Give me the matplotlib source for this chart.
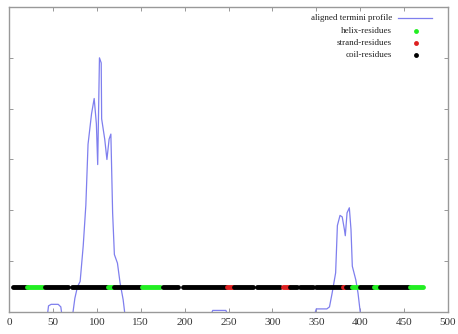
import matplotlib
matplotlib.use('Agg')
import matplotlib.pyplot as plt

# aligned termini profile (values below 0 are clipped by the axis)
profile_x = [0, 40, 42, 45, 48, 56, 59, 62, 66, 70, 72.5, 75, 78, 81, 84.5, 87.5, 90, 94, 97,
             99.5, 101, 103, 105, 105.5, 109, 111.5, 114, 116, 118, 120, 123.5, 126.5, 130,
             132, 135, 225, 229, 232, 247, 250, 254, 344, 347, 350, 362, 365, 368, 372, 374,
             377, 379.5, 382, 383, 385, 387.6, 389.5, 391, 395, 397.5, 400, 403, 470]
profile_y = [-0.3, -0.3, -0.3, 0.12, 0.15, 0.15, 0.1, -0.3, -0.3, -0.3, -0.05, 0.27, 0.5, 0.6,
             1.3, 2.1, 3.3, 3.9, 4.2, 3.7, 2.9, 5.0, 4.9, 3.8, 3.4, 3.0, 3.4, 3.5, 1.95, 1.13,
             0.96, 0.57, 0.24, -0.05, -0.3, -0.3, -0.1, 0.03, 0.03, -0.1, -0.3, -0.3, -0.1, 0.06,
             0.06, 0.1, 0.37, 0.77, 1.7, 1.9, 1.87, 1.62, 1.5, 1.95, 2.05, 1.62, 0.9, 0.63,
             0.37, 0.0, -0.3, -0.3]

# secondary structure per residue range: (start, end, type)
seg_start = [5, 21, 41, 72, 113, 119, 151, 175, 198, 248, 256, 283, 312, 320, 331, 350, 380,
             384, 391, 400, 416, 423, 457]
seg_end = [20, 39, 67, 112, 118, 149, 172, 193, 247, 255, 278, 309, 319, 328, 346, 379, 383,
           390, 399, 415, 421, 456, 472]
seg_type = ['coil', 'helix', 'coil', 'coil', 'helix', 'coil', 'helix', 'coil', 'coil', 'strand',
            'coil', 'coil', 'strand', 'coil', 'coil', 'coil', 'strand', 'coil', 'helix', 'coil',
            'helix', 'coil', 'helix']
residue_level = 0.5

colors = {'helix': '#22ee22', 'strand': '#dd2020', 'coil': 'black'}
legend_labels = ['aligned termini profile', 'helix-residues', 'strand-residues', 'coil-residues']
profile_color = '#7f7fee'

serif = ['Liberation Serif', 'DejaVu Serif']

fig = plt.figure(figsize=(4.58, 3.34), dpi=100)
ax = fig.add_axes([0.0197, 0.066, 0.9585, 0.913])

ax.plot(profile_x, profile_y, color=profile_color, linewidth=0.9, zorder=2)

# residues drawn as thick runs of points
for s, e, t in zip(seg_start, seg_end, seg_type):
    ax.plot([s, e], [residue_level, residue_level], color=colors[t], linewidth=3.5,
            solid_capstyle='round', zorder=3)

ax.set_xlim(0, 500)
ax.set_ylim(0, 6)
ax.set_xticks(range(0, 501, 50))
ax.set_yticks(range(0, 7))
ax.set_yticklabels([])
ax.tick_params(direction='in', length=3, width=0.6, color='#888888', top=True, right=True,
               labelsize=8, pad=4)
for lbl in ax.get_xticklabels():
    lbl.set_fontfamily(serif)
    lbl.set_color('#333333')
for sp in ax.spines.values():
    sp.set_color('#999999')
    sp.set_linewidth(1.0)

# gnuplot-style key: right-aligned labels, sample on the right
row_y = [0.964, 0.922, 0.882, 0.843]
for i, (label, yy) in enumerate(zip(legend_labels, row_y)):
    ax.text(0.872, yy, label, transform=ax.transAxes, ha='right', va='center',
            fontsize=6.5, family=serif, color='#222222')
    if i == 0:
        ax.plot([0.886, 0.964], [yy, yy], transform=ax.transAxes, color=profile_color,
                linewidth=0.9, clip_on=False)
    else:
        kind = ['helix', 'strand', 'coil'][i - 1]
        ax.plot([0.926], [yy], 'o', transform=ax.transAxes, color=colors[kind],
                markersize=3.5, markeredgewidth=0, clip_on=False)

fig.savefig('out.png', dpi=100)
